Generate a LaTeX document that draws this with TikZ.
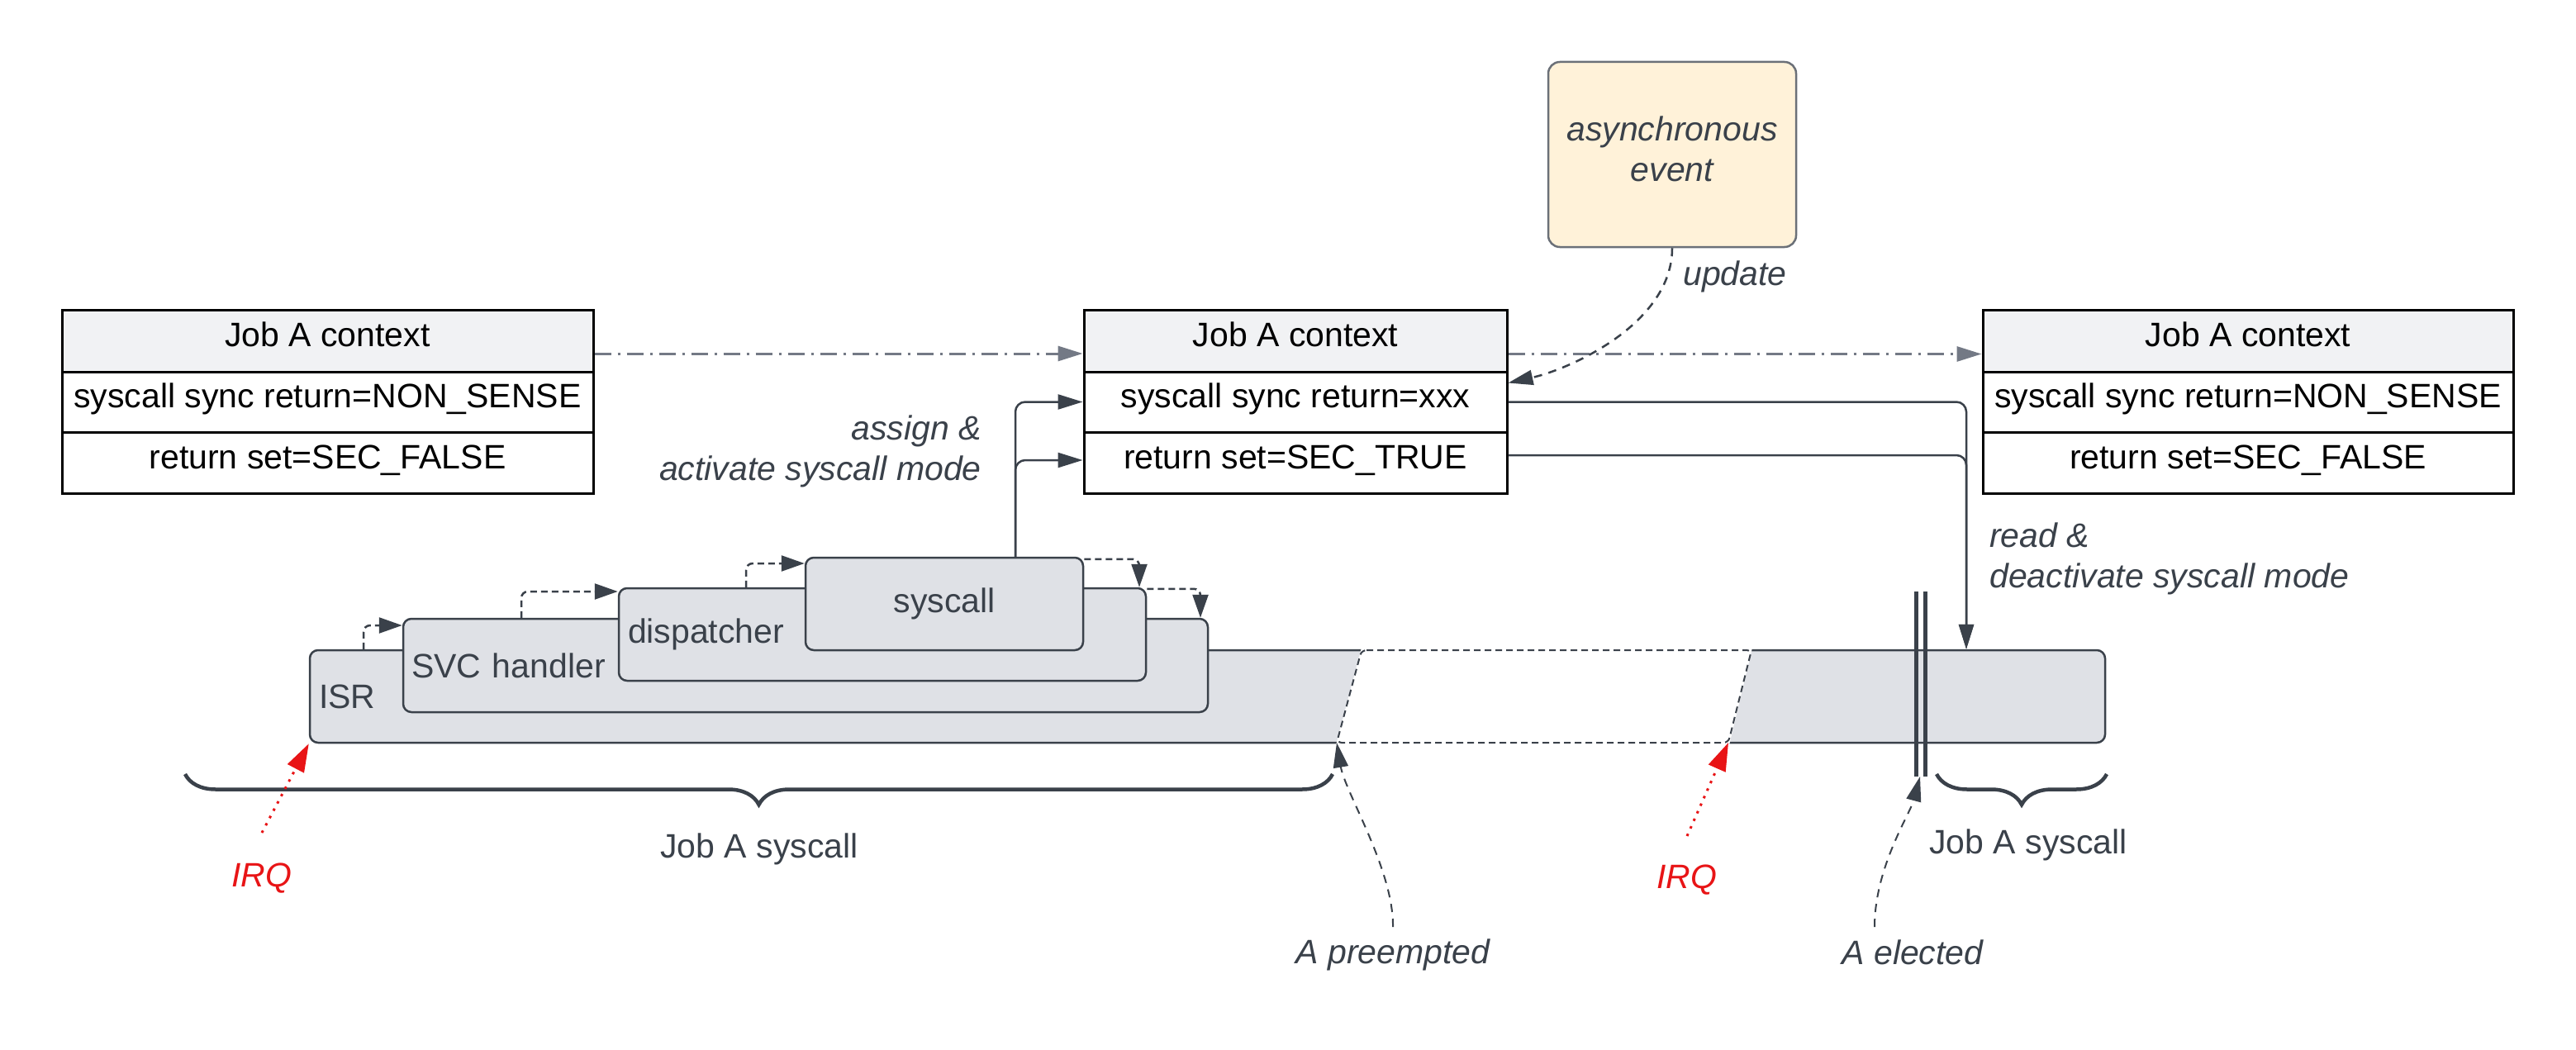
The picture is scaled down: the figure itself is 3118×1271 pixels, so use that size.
\documentclass[tikz,border=0pt]{standalone}
\usepackage{fontspec}
\setmainfont{Liberation Sans}
\usetikzlibrary{arrows.meta,calc,decorations.pathreplacing}
\definecolor{ink}{HTML}{3A414A}
\definecolor{hdr}{HTML}{F1F2F4}
\definecolor{shp}{HTML}{DFE1E6}
\definecolor{cream}{HTML}{FFF2D9}
\definecolor{evb}{HTML}{6B7078}
\definecolor{dd}{HTML}{737985}
\definecolor{irqc}{HTML}{E81416}
\newcommand\bigf{\fontsize{41}{49}\selectfont}
\begin{document}
\begin{tikzpicture}[x=1pt,y=-1pt,
  ctxbox/.style={draw=black, line width=3pt, inner sep=0pt, font=\bigf, text=black, text height=28pt, text depth=14pt},
  ctxhdr/.style={ctxbox, fill=hdr},
  stk/.style={draw=ink, fill=shp, line width=2.5pt, rounded corners=10pt, inner sep=0pt, font=\bigf, text=ink, minimum height=112pt},
  lbl/.style={font=\bigf\itshape, text=ink, inner sep=0pt},
  plain/.style={font=\bigf, text=ink, inner sep=0pt},
  ddash/.style={dd, line width=3pt, dash pattern=on 20pt off 8pt on 3pt off 8pt, -{Triangle[length=30pt,width=18pt]}},
  conn/.style={ink, line width=2.5pt, rounded corners=12pt, -{Triangle[length=30pt,width=18pt]}},
  smalld/.style={ink, line width=2.5pt, dash pattern=on 8pt off 5pt, rounded corners=8pt, -{Triangle[length=28pt,width=19pt]}},
  curv/.style={ink, line width=2pt, dash pattern=on 10pt off 8pt, -{Triangle[length=30pt,width=18pt]}},
  irqa/.style={irqc, line width=3pt, dash pattern=on 3pt off 7pt, -{Triangle[length=34pt,width=22pt]}},
  bracest/.style={ink, line width=4.5pt, decorate, decoration={brace, amplitude=37pt, mirror}}
]
\useasboundingbox (0,0) rectangle (3118,1271);
\fill[white] (0,0) rectangle (3118,1271);

% context boxes
\node[ctxhdr, minimum width=643pt, minimum height=75pt] (L0) at (396.5,412.5) {Job A context};
\node[ctxbox, minimum width=643pt, minimum height=73pt] (L1) at (396.5,486.5) {syscall sync return=NON\_SENSE};
\node[ctxbox, minimum width=643pt, minimum height=74pt] (L2) at (396.5,560) {return set=SEC\_FALSE};

\node[ctxhdr, minimum width=512pt, minimum height=75pt] (M0) at (1568,412.5) {Job A context};
\node[ctxbox, minimum width=512pt, minimum height=73pt] (M1) at (1568,486.5) {syscall sync return=xxx};
\node[ctxbox, minimum width=512pt, minimum height=74pt] (M2) at (1568,560) {return set=SEC\_TRUE};

\node[ctxhdr, minimum width=642pt, minimum height=75pt] (R0) at (2721,412.5) {Job A context};
\node[ctxbox, minimum width=642pt, minimum height=73pt] (R1) at (2721,486.5) {syscall sync return=NON\_SENSE};
\node[ctxbox, minimum width=642pt, minimum height=74pt] (R2) at (2721,560) {return set=SEC\_FALSE};

% asynchronous event
\node[draw=evb, fill=cream, line width=2.5pt, rounded corners=14pt, minimum width=300pt, minimum height=224pt, inner sep=0pt, font=\bigf\itshape, text=ink, align=center] (ev) at (2024,187) {asynchronous\\event\\[-35pt]};

% stacked execution boxes
\node[stk, minimum width=2173pt, text width=2151pt, align=left] (ISR) at (1461.5,843) {ISR};
% preempted gap
\coordinate (gapBL) at (1618,899);
\coordinate (gapBR) at (2092,899);
\fill[white] (1648,784) -- (2121,784) -- (2093,902) -- (1617,902) -- cycle;
\draw[ink, line width=2pt, dash pattern=on 8pt off 5pt, rounded corners=6pt] (1648,787) -- (2120,787) -- (gapBR) -- (gapBL) -- cycle;

\node[stk, minimum width=974pt, minimum height=113pt, text width=954pt, align=left] (SVC) at (975,805.5) {SVC handler};
\node[stk, minimum width=638pt, text width=616pt, align=left] (DSP) at (1068,768) {dispatcher};
\node[stk, minimum width=336pt] (SYS) at (1143,731) {syscall};

% double bar
\coordinate (bar) at (2324,940);
\draw[ink, line width=5pt] (2319,716) -- (2319,940);
\draw[ink, line width=5pt] (2330,716) -- (2330,940);

% dash-dot context transitions
\draw[ddash] ([yshift=-15.5pt]L0.east) -- ([yshift=-15.5pt]M0.west);
\draw[ddash] ([yshift=-16pt]M0.east) -- ([yshift=-16pt]R0.west);

% update curve
\draw[curv, line width=2.5pt] (ev.south) .. controls ($(ev.south)+(0,91)$) and ($(M0.south east)+(76,-5)$) .. ([yshift=-12pt]M0.south east);
\node[lbl, anchor=west] (upd) at (2037,335) {update};

% assign connectors
\draw[conn] ([xshift=86pt]SYS.north) |- (M1.west);
\draw[conn] ([xshift=86pt]SYS.north) |- ([yshift=3pt]M2.west);
\node[lbl, anchor=east, align=right] (asg) at (1188,546) {assign \&\\activate syscall mode};

% read connectors
\draw[conn] (M1.east) -| ([xshift=918.5pt]ISR.north);
\draw[conn] ([yshift=9pt]M2.east) -| ([xshift=918.5pt]ISR.north);
\node[lbl, anchor=west, align=left] (rd) at (2408,676) {read \&\\deactivate syscall mode};

% call / return dashed arrows
\draw[smalld] ([xshift=-1021.5pt]ISR.north) |- ([yshift=48.5pt]SVC.west);
\draw[smalld] ([xshift=-344pt]SVC.north) |- ([yshift=52pt]DSP.west);
\draw[smalld] ([xshift=-165pt]DSP.north) |- ([yshift=49pt]SYS.west);
\draw[smalld] ([yshift=-3pt]SYS.north east) -| ([xshift=311pt]DSP.north);
\draw[smalld] ([yshift=-2pt]DSP.north east) -| ([xshift=478pt]SVC.north);

% braces
\draw[bracest] (224,937) -- (1613,937);
\draw[bracest] (2344,937) -- (2550,937);
\node[plain] (js1) at (919,1028) {Job A syscall};
\node[plain] (js2) at (2455,1023) {Job A syscall};

% IRQs
\node[lbl, text=irqc] (irq1) at (317,1063) {IRQ};
\node[lbl, text=irqc] (irq2) at (2042,1065) {IRQ};
\draw[irqa] ([yshift=55pt]irq1.center) -- (ISR.south west);
\draw[irqa] ([yshift=53pt]irq2.center) -- (gapBR);

% preempted / elected
\node[lbl] (pre) at (1686,1156) {A preempted};
\node[lbl] (ele) at (2315,1153) {A elected};
\draw[curv] ([yshift=34pt]pre.center) .. controls ($(pre.center)+(1,-103)$) and ($(gapBL)+(10,60)$) .. (gapBL);
\draw[curv] ([xshift=-46pt,yshift=31pt]ele.center) .. controls ($(ele.center)+(-46,-103)$) and ($(bar)+(-12,45)$) .. (bar);
\end{tikzpicture}
\end{document}
